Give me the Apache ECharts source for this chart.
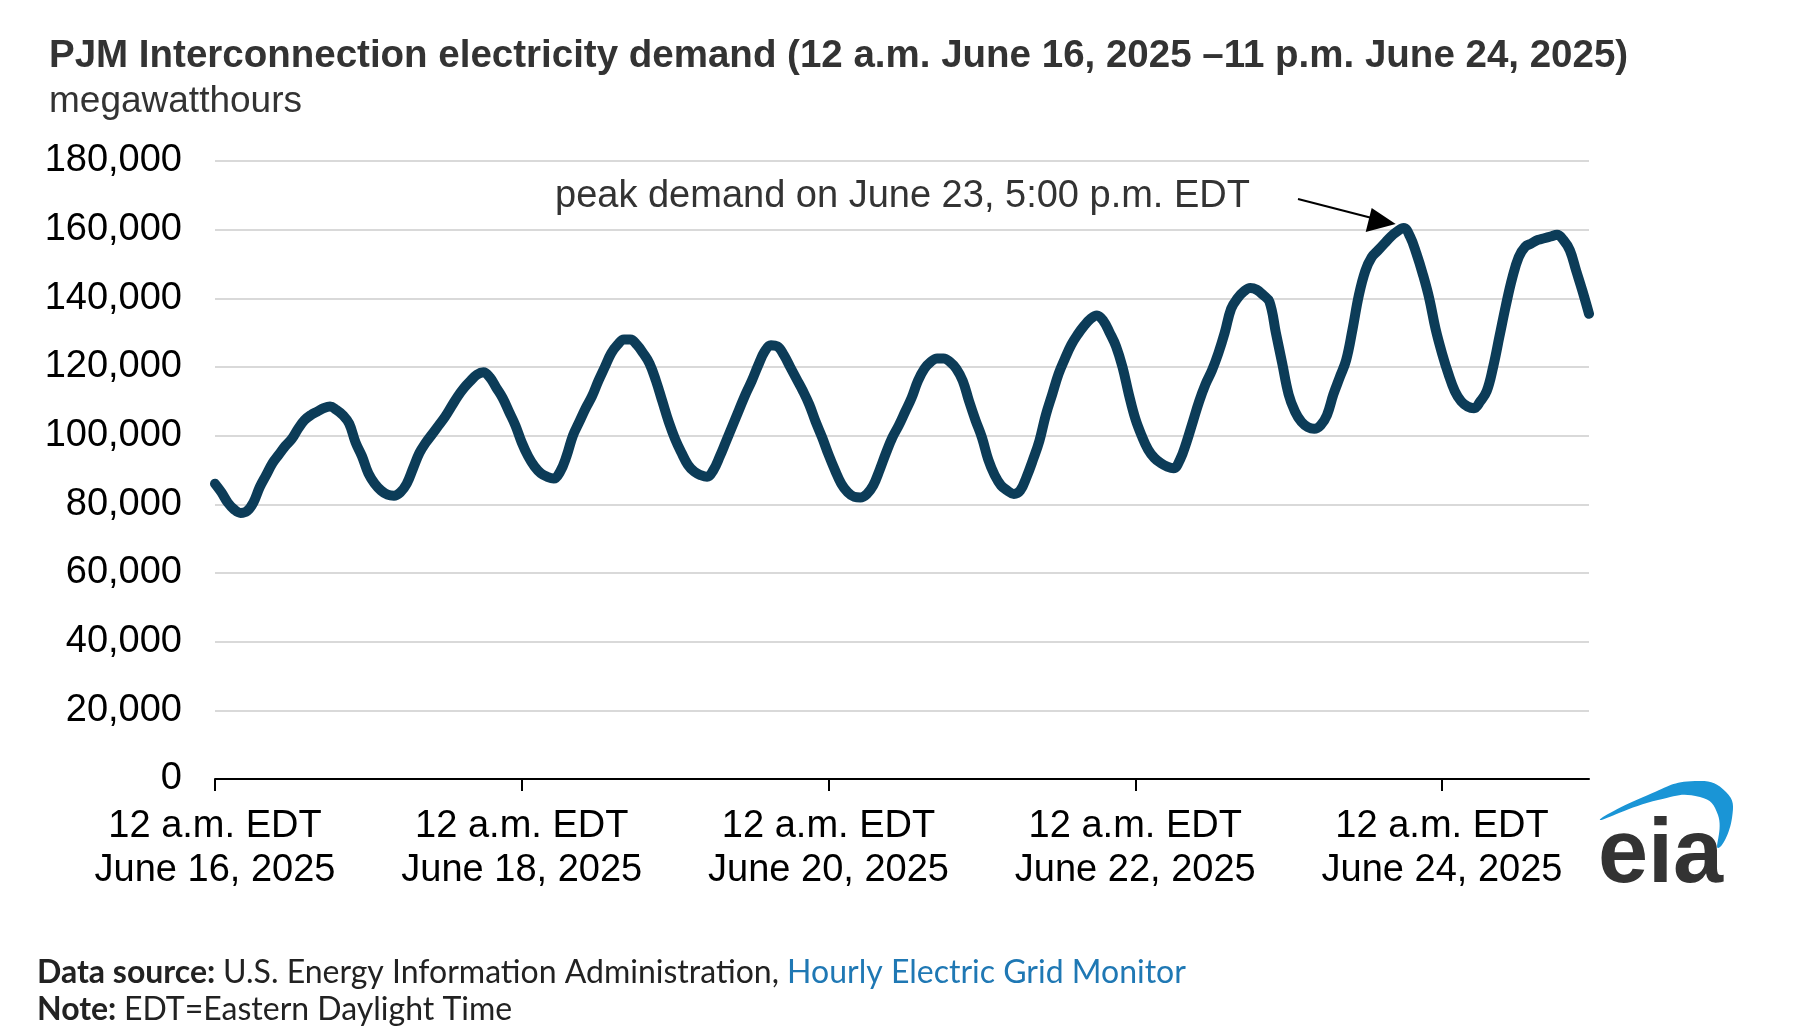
<!DOCTYPE html>
<html><head><meta charset="utf-8">
<script src="https://cdn.jsdelivr.net/npm/echarts@6/dist/echarts.min.js"></script>
<style>html,body{margin:0;padding:0;background:#fff}#c{width:1812px;height:1032px}</style>
</head><body><div id="c"></div>
<script>
// hourly demand, thousand MWh, June 16 00:00 .. June 24 23:00
const day16 = [86,83.5,80.5,78.5,77.5,78,80.5,85,88.5,92,94.5,97,99,102,104.5,106,107,108,108.5,107.5,106,103.5,98,94];
const day17 = [89,86,84,82.8,82.5,83.5,86,90.5,95,98,100.5,103,105.5,108.5,111.5,114,116,117.8,118.5,117,114,111,107,103];
const day18 = [98,94,91,89,88,87.5,89.5,94,100,104,108,111.5,116,120,124,126.5,128,128,126.5,124,121,116,110,104];
const day19 = [99,95,91.5,89.5,88.5,88,90,94,98.5,103,107.5,112,116,120.5,124.5,126.3,126,123.5,120,116.5,113,109,104,99.5];
const day20 = [94.5,90,86,83.5,82.2,82,83,85.5,90,95,99.5,103,107,111,116,119.5,121.5,122.5,122.5,121.5,119.5,116,110,104.5];
const day21 = [99.5,93,88.5,85.5,84,83,84,88,93,98.5,106,112,118,122.5,126.5,129.5,132,134,135,133.5,130,126,120,112];
const day22 = [105,100,96,93.5,92,91,90.5,93,98,104,110,115,119,124,130,137,140,142,143,142.5,141,139,130,121];
const day23 = [112,107,104,102.5,102,103,106,112,117,122,131,141,148,152,154,156,158,159.5,160.5,158,153,147,140,131];
const day24 = [124,118,113,110,108.5,108,110,113,120,129,138,146,152,155,156,157,157.5,158,158.5,157,154,148,142,135.5];
const days = [day16,day17,day18,day19,day20,day21,day22,day23,day24];
const dayNames = ['June 16, 2025','June 17, 2025','June 18, 2025','June 19, 2025','June 20, 2025','June 21, 2025','June 22, 2025','June 23, 2025','June 24, 2025'];
const yTicks = [0,20000,40000,60000,80000,100000,120000,140000,160000,180000];

const categories = [];
const values = [];
days.forEach((d, i) => d.forEach((v, h) => { categories.push(h === 0 ? '12 a.m. EDT\n' + dayNames[i] : dayNames[i] + ' ' + h); values.push(v * 1000); }));

const chart = echarts.init(document.getElementById('c'));
chart.setOption({
  animation: false,
  title: [
    {text: 'PJM Interconnection electricity demand (12 a.m. June 16, 2025 \u201311 p.m. June 24, 2025)', left: 44, top: 32,
     textStyle: {fontFamily: 'Liberation Sans', fontWeight: 'bold', fontSize: 38.5, color: '#333'}},
    {text: 'megawatthours', left: 44, top: 78, textStyle: {fontFamily: 'Liberation Sans', fontWeight: 'normal', fontSize: 37, color: '#333'}}
  ],
  grid: {left: 215, right: 223, top: 161, bottom: 253, containLabel: false},
  xAxis: {
    type: 'category', data: categories, boundaryGap: false,
    axisLine: {lineStyle: {color: '#000', width: 2}},
    axisTick: {show: true, length: 12, interval: (i) => i % 48 === 0, lineStyle: {color: '#000', width: 2}},
    axisLabel: {interval: (i) => i % 48 === 0, margin: 26, fontFamily: 'Liberation Sans', fontSize: 38, color: '#000', lineHeight: 44},
    splitLine: {show: false}
  },
  yAxis: {
    type: 'value', min: yTicks[0], max: yTicks[yTicks.length - 1], interval: 20000,
    axisLine: {show: false}, axisTick: {show: false},
    axisLabel: {margin: 33, fontFamily: 'Liberation Sans', fontSize: 38, color: '#000',
      formatter: (v) => v.toLocaleString('en-US')},
    splitLine: {lineStyle: {color: '#d9d9d9', width: 2}}
  },
  series: [{type: 'line', data: values, smooth: 0.4, symbol: 'none',
    lineStyle: {color: '#0c3c58', width: 10, cap: 'round', join: 'round'}}]
});

const peakIdx = values.indexOf(Math.max(...values));
const p = chart.convertToPixel({gridIndex: 0}, [peakIdx, values[peakIdx]]);
chart.setOption({
  graphic: [
    {type: 'text', x: 555, y: 178, style: {text: 'peak demand on June 23, 5:00 p.m. EDT', font: '38px "Liberation Sans"', fill: '#333'}},
    {type: 'line', shape: {x1: 1298, y1: 199, x2: p[0] - 24, y2: p[1] - 8}, style: {stroke: '#000', lineWidth: 2}},
    {type: 'polygon', shape: {points: [[p[0] - 8, p[1] - 4], [p[0] - 32, p[1] - 20], [p[0] - 38, p[1] + 4]]}, style: {fill: '#000'}},
    {type: 'text', x: 1598, y: 812, style: {text: 'eia', font: 'bold 90px "Liberation Sans"', fill: '#333'}},
    {type: 'polygon', shape: {smooth: 0.5, points: [[1600, 820], [1648, 795], [1695, 781], [1726, 792], [1732, 818], [1718, 848], [1718, 815], [1700, 797], [1658, 800]]}, style: {fill: '#1a95d6'}},
    {type: 'text', x: 37, y: 957, style: {rich: {
      b: {fontFamily: 'Lato', fontWeight: 'bold', fontSize: 32, fill: '#222'},
      n: {fontFamily: 'Lato', fontSize: 32, fill: '#222'},
      l: {fontFamily: 'Lato', fontSize: 32, fill: '#1f78b4'}},
      text: '{b|Data source: }{n|U.S. Energy Information Administration, }{l|Hourly Electric Grid Monitor}'}},
    {type: 'text', x: 37, y: 994, style: {rich: {
      b: {fontFamily: 'Lato', fontWeight: 'bold', fontSize: 32, fill: '#222'},
      n: {fontFamily: 'Lato', fontSize: 32, fill: '#222'}},
      text: '{b|Note: }{n|EDT=Eastern Daylight Time}'}}
  ]
});
</script></body></html>
